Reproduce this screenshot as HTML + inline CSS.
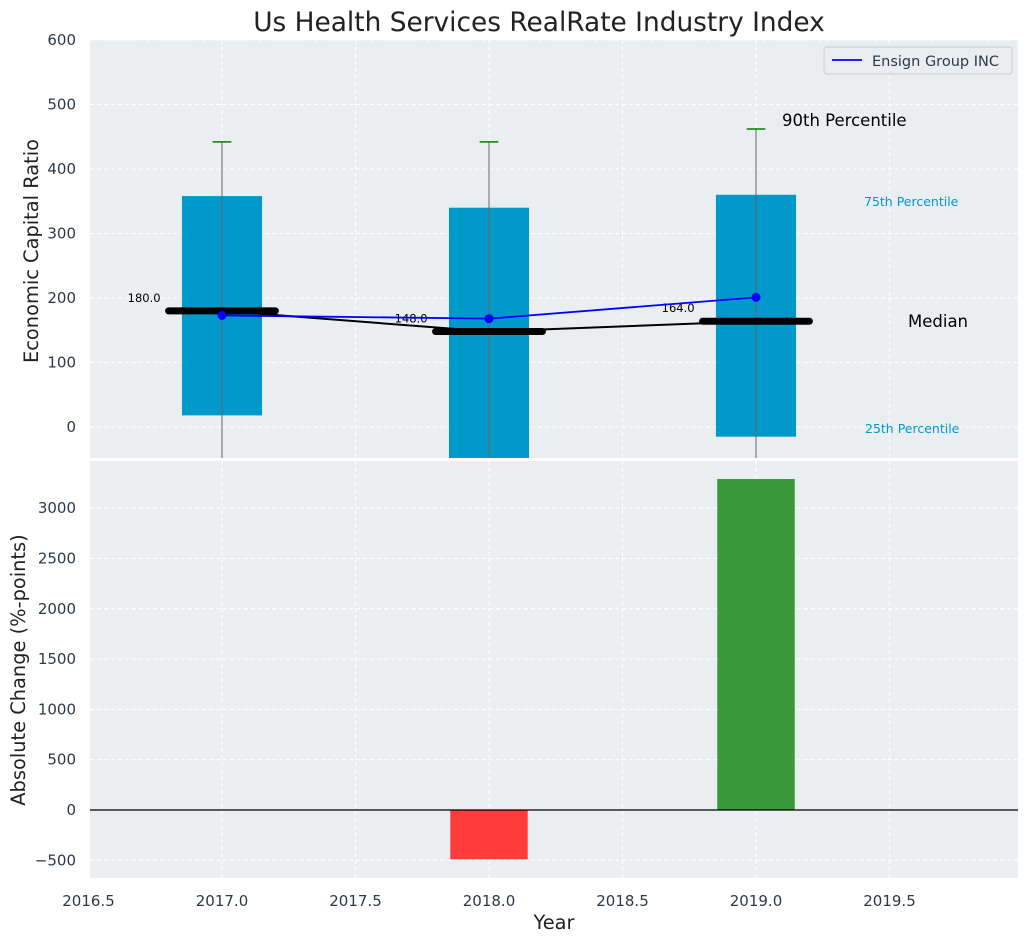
<!DOCTYPE html>
<html><head><meta charset="utf-8">
<style>
body{margin:0;background:#fff;font-family:"DejaVu Sans","Liberation Sans",sans-serif;}
svg text{font-family:"DejaVu Sans","Liberation Sans",sans-serif;}
</style></head>
<body>
<svg id="chart" width="1029" height="942" xmlns="http://www.w3.org/2000/svg"></svg>
<script>
const years = [2017, 2018, 2019];
const p90 = [442, 442, 462];
const p75 = [358, 340, 360];
const p25 = [18, -100, -15];
const p10 = [-100, -100, -100];
const medians = [180, 148, 164];
const company = [173, 168, 201];
const changes = [0, -490, 3290];
const xTicks = [2016.5, 2017.0, 2017.5, 2018.0, 2018.5, 2019.0, 2019.5];
const yTopTicks = [0, 100, 200, 300, 400, 500, 600];
const yBotTicks = [-500, 0, 500, 1000, 1500, 2000, 2500, 3000];

const svg = document.getElementById('chart');
const NS = 'http://www.w3.org/2000/svg';
function el(tag, attrs, parent) {
  const e = document.createElementNS(NS, tag);
  for (const k in attrs) e.setAttribute(k, attrs[k]);
  (parent || svg).appendChild(e);
  return e;
}
const L = 90, R = 1018;
const TT = 40, TB = 458, BT = 461, BB = 878;
const x = v => 222 + (v - 2017) * 267;
const yT = v => 427 - v * 0.645;
const yB = v => 810 - v * 0.1006;

let p = el('rect', {x: L, y: TT, width: R - L, height: TB - TT, fill: '#eaeef0'});


p = el('rect', {x: L, y: BT, width: R - L, height: BB - BT, fill: '#eaeef0'});



xTicks.forEach(t => {
  el('line', {x1: x(t), x2: x(t), y1: TT, y2: TB, stroke: '#fff', 'stroke-dasharray': '4,3'});
  el('line', {x1: x(t), x2: x(t), y1: BT, y2: BB, stroke: '#fff', 'stroke-dasharray': '4,3'});
  const tx = el('text', {x: x(t), y: 906, 'text-anchor': 'middle', 'font-size': 15, fill: '#2b3a4a'});
  tx.textContent = t.toFixed(1);
  
  
});
yTopTicks.forEach(t => {
  el('line', {x1: L, x2: R, y1: yT(t), y2: yT(t), stroke: '#fff', 'stroke-dasharray': '4,3'});
  const tx = el('text', {x: 76, y: yT(t) + 5, 'text-anchor': 'end', 'font-size': 15, fill: '#2b3a4a'});
  tx.textContent = t;
  
  
});
yBotTicks.forEach(t => {
  el('line', {x1: L, x2: R, y1: yB(t), y2: yB(t), stroke: '#fff', 'stroke-dasharray': '4,3'});
  const tx = el('text', {x: 76, y: yB(t) + 5, 'text-anchor': 'end', 'font-size': 15, fill: '#2b3a4a'});
  tx.textContent = t < 0 ? '\u2212' + Math.abs(t) : t;
  
  
});

const defs = el('defs', {});
const cp = el('clipPath', {id: 'ctop'}, defs);
el('rect', {x: L, y: TT, width: R - L, height: TB - TT}, cp);
const gT = el('g', {'clip-path': 'url(#ctop)'});

years.forEach((yr, i) => {
  const b = el('rect', {x: x(yr - 0.15), width: x(yr + 0.15) - x(yr - 0.15), y: yT(p75[i]), height: yT(p25[i]) - yT(p75[i]), fill: '#0099cc'}, gT);
  
  
  el('line', {x1: x(yr), x2: x(yr), y1: yT(p90[i]), y2: yT(p10[i]), stroke: '#666', 'stroke-width': 1}, gT);
  const c = el('line', {x1: x(yr - 0.035), x2: x(yr + 0.035), y1: yT(p90[i]), y2: yT(p90[i]), stroke: 'green', 'stroke-width': 1.5}, gT);
  
  
});
el('polyline', {points: years.map((yr, i) => x(yr) + ',' + yT(medians[i])).join(' '), fill: 'none', stroke: '#000', 'stroke-width': 2}, gT);
years.forEach((yr, i) => {
  const m = el('line', {x1: x(yr - 0.2), x2: x(yr + 0.2), y1: yT(medians[i]), y2: yT(medians[i]), stroke: '#000', 'stroke-width': 7, 'stroke-linecap': 'round'}, gT);
  
  
  const t = el('text', {x: x(yr - 0.23), y: yT(medians[i]) - 9, 'text-anchor': 'end', 'font-size': 11.5, fill: '#000'}, gT);
  t.textContent = medians[i].toFixed(1);
  
  
});
const cl = el('polyline', {points: years.map((yr, i) => x(yr) + ',' + yT(company[i])).join(' '), fill: 'none', stroke: 'blue', 'stroke-width': 1.8}, gT);


years.forEach((yr, i) => {
  const d = el('circle', {cx: x(yr), cy: yT(company[i]), r: 4.5, fill: 'blue'}, gT);
  
  
});

function txt(s, a, name) {
  const t = el('text', a); t.textContent = s;
  
  
}
txt('90th Percentile', {x: 782, y: 126, 'font-size': 16.5, fill: '#000'}, 'p90-annotation');
txt('75th Percentile', {x: 864, y: 206, 'font-size': 12.5, fill: '#0099cc'}, 'p75-annotation');
txt('Median', {x: 908, y: 327, 'font-size': 16.5, fill: '#000'}, 'median-annotation');
txt('25th Percentile', {x: 865, y: 433, 'font-size': 12.5, fill: '#0099cc'}, 'p25-annotation');

const lg = el('g', {});


el('rect', {x: 824, y: 47, width: 188, height: 27, fill: '#eaeef0', stroke: '#ccc', rx: 3}, lg);
el('line', {x1: 832, x2: 862, y1: 60, y2: 60, stroke: 'blue', 'stroke-width': 1.8}, lg);
const lt = el('text', {x: 872, y: 66, 'font-size': 14.5, fill: '#2b3a4a'}, lg);
lt.textContent = 'Ensign Group INC';

years.forEach((yr, i) => {
  const v = changes[i];
  if (v === 0) return;
  const r = el('rect', {x: x(yr - 0.145), width: x(yr + 0.145) - x(yr - 0.145), y: yB(Math.max(v, 0)), height: Math.abs(yB(v) - yB(0)), fill: v > 0 ? '#3a9a3a' : '#ff3b3b'});
  
  
});
el('line', {x1: L, x2: R, y1: yB(0), y2: yB(0), stroke: '#000', 'stroke-width': 1.2});

txt('Us Health Services RealRate Industry Index', {x: 539, y: 31, 'text-anchor': 'middle', 'font-size': 26.4, fill: '#222'}, 'chart-title');
txt('Economic Capital Ratio', {x: 0, y: 0, transform: 'translate(38,251) rotate(-90)', 'text-anchor': 'middle', 'font-size': 19.4, fill: '#222'}, 'top-y-axis-title');
txt('Absolute Change (%-points)', {x: 0, y: 0, transform: 'translate(25,670) rotate(-90)', 'text-anchor': 'middle', 'font-size': 19.4, fill: '#222'}, 'bottom-y-axis-title');
txt('Year', {x: 554, y: 929, 'text-anchor': 'middle', 'font-size': 19.4, fill: '#222'}, 'x-axis-title');
</script>
</body></html>
